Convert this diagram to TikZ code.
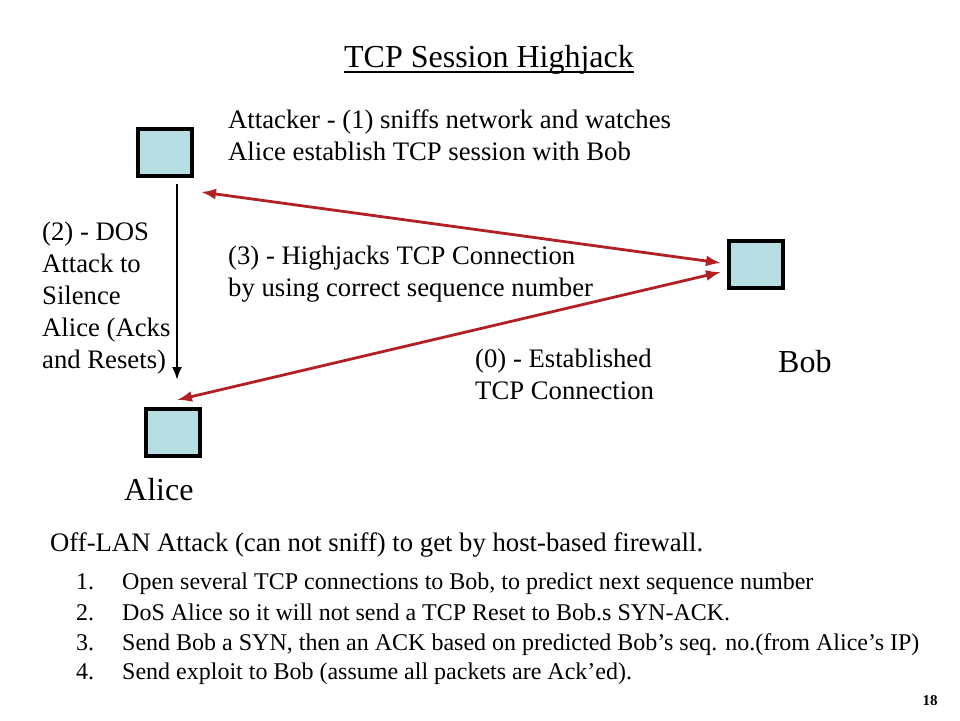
\documentclass[tikz,border=0pt]{standalone}
\usepackage{fontspec}
\setmainfont{Liberation Serif}
\usetikzlibrary{arrows.meta}
\definecolor{boxfill}{RGB}{182,221,226}
\definecolor{linkred}{RGB}{178,32,36}
\begin{document}
\begin{tikzpicture}[x=1pt,y=-1pt,
  host/.style={draw=black,line width=3.2pt,fill=boxfill,minimum width=54pt,minimum height=47pt,inner sep=0pt},
  body/.style={anchor=base west,inner sep=0pt,font=\fontsize{26.7}{32}\selectfont,align=left},
  big/.style={anchor=base west,inner sep=0pt,font=\fontsize{32}{38}\selectfont},
  item/.style={anchor=base west,inner sep=0pt,font=\fontsize{24}{29}\selectfont},
  link/.style={draw=linkred,line width=2.8pt,{Latex[length=15pt,width=11pt]}-{Latex[length=15pt,width=11pt]}},
  dosarrow/.style={draw=black,line width=2.2pt,-{Latex[length=13pt,width=10pt]}}]
\useasboundingbox (0,0) rectangle (960,720);
\fill[white] (0,0) rectangle (960,720);
% title
\node[anchor=base,inner sep=0pt,font=\fontsize{32}{38}\selectfont] (title) at (489,67) {TCP Session Highjack};
\draw[line width=1.6pt] (title.base west) ++(0,5) -- ([yshift=-5pt]title.base east);
% hosts
\node[host] (attacker) at (165,152.5) {};
\node[host] (bob) at (756,264.5) {};
\node[host] (alice) at (173,432.5) {};
% connector end points
\coordinate (atkend) at (201,192);
\coordinate (bobend1) at (721,263);
\coordinate (bobend2) at (721,272);
\coordinate (aliend) at (177,400);
\coordinate (dostop) at (177,184);
\coordinate (dosbot) at (177,380);
\draw[link] (atkend) -- (bobend1);
\draw[link] (aliend) -- (bobend2);
\draw[dosarrow] (dostop) -- (dosbot);
% labels
\node[body] (t1a) at (228,128) {Attacker - (1) sniffs network and watches};
\node[body] (t1b) at (228,160) {Alice establish TCP session with Bob};
\node[body] (t2a) at (42,240) {(2) - DOS};
\node[body] (t2b) at (42,272) {Attack to};
\node[body] (t2c) at (42,304) {Silence};
\node[body] (t2d) at (42,336) {Alice (Acks};
\node[body] (t2e) at (42,368) {and Resets)};
\node[body] (t3a) at (228,264) {(3) - Highjacks TCP Connection};
\node[body] (t3b) at (228,296) {by using correct sequence number};
\node[body] (t0a) at (475,367) {(0) - Established};
\node[body] (t0b) at (475,399) {TCP Connection};
\node[big] (boblbl) at (778,372) {Bob};
\node[big] (alicelbl) at (124,500) {Alice};
\node[body] (offlan) at (50,551) {Off-LAN Attack (can not sniff) to get by host-based firewall.};
\node[item] (n1) at (76,589) {1.};
\node[item] (n2) at (76,620) {2.};
\node[item] (n3) at (76,650) {3.};
\node[item] (n4) at (76,679) {4.};
\node[item] (i1) at (122,589) {Open several TCP connections to Bob, to predict next sequence number};
\node[item] (i2) at (122,620) {DoS Alice so it will not send a TCP Reset to Bob.s SYN-ACK.};
\node[item] (i3) at (122,650) {Send Bob a SYN, then an ACK based on predicted Bob’s seq. no.(from Alice’s IP)};
\node[item] (i4) at (122,679) {Send exploit to Bob (assume all packets are Ack’ed).};
\node[anchor=base,inner sep=0pt,font=\fontsize{15}{18}\selectfont\bfseries] (pnum) at (930,705) {18};
\end{tikzpicture}
\end{document}
